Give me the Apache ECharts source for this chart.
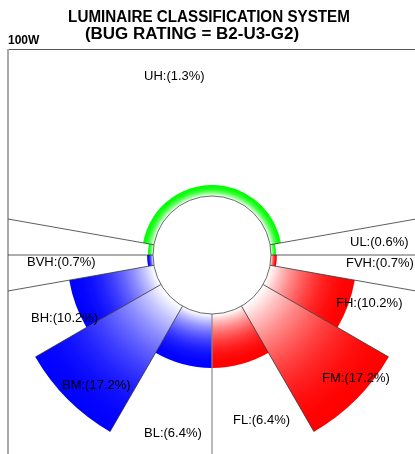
<!DOCTYPE html>
<html>
<head>
<meta charset="utf-8">
<script src="https://cdn.jsdelivr.net/npm/echarts@6/dist/echarts.min.js"></script>
<style>
html,body{margin:0;padding:0;background:#fff;}
#chart{width:415px;height:454px;}
</style>
</head>
<body>
<div id="chart"></div>
<script>
// ---- data ----
const titleLine1 = 'LUMINAIRE CLASSIFICATION SYSTEM';
const titleLine2 = '(BUG RATING = B2-U3-G2)';
const wattLabel = '100W';
// sectors (angles measured from nadir, back side clockwise)
const sectorZone  = ['BL', 'BM', 'BH', 'BVH', 'UL', 'UH', 'UL', 'FVH', 'FH', 'FM', 'FL'];
const sectorValue = [6.4, 17.2, 10.2, 0.7, 0.6, 1.3, 0.6, 0.7, 10.2, 17.2, 6.4];
const sectorFrom  = [0, 30, 60, 80, 90, 100, 260, 270, 280, 300, 330];
const sectorTo    = [30, 60, 80, 90, 100, 260, 270, 280, 300, 330, 360];
// zone boundary lines that run out to the frame
const majorBounds = [0, 80, 90, 100, 260, 270, 280];
// zone boundary lines that end at the sectors
const minorBounds = [30, 60, 300, 330];
// labels
const labelZone  = ['UH', 'UL', 'FVH', 'FH', 'FM', 'FL', 'BL', 'BM', 'BH', 'BVH'];
const labelValue = [1.3, 0.6, 0.7, 10.2, 17.2, 6.4, 6.4, 17.2, 10.2, 0.7];

// ---- layout / style ----
const CENTER = [212, 255];
const R_IN = 59;
const R_MAX_VAL = 20;
const R_OUT = 59 + 8.43 * R_MAX_VAL;
const FRAME = {x0: 8, y0: 49.5, x1: 415, y1: 454};
const labelPos = [[144,76],[350,242],[346,263],[336,303],[322,378],[233,420],[144,433],[62,385],[31,318],[27,262]];
const zoneRGB = {B: [0, 0, 255], U: [0, 255, 0], F: [255, 0, 0]};
const GAMMA = 2.0;

const chart = echarts.init(document.getElementById('chart'), null, {renderer: 'canvas'});

function mix(rgb, w) {
  const c = rgb.map(v => Math.round(v + (255 - v) * w));
  return 'rgb(' + c.join(',') + ')';
}

function sectorItem(params, api) {
  const i = params.dataIndex;
  const cs = params.coordSys;
  const cx = cs.cx, cy = cs.cy;
  const v = api.value(0), from = api.value(1), to = api.value(2);
  const pIn = api.coord([0, from]);
  const p1 = api.coord([v, from]);
  const p2 = api.coord([v, to]);
  const rIn = Math.hypot(pIn[0] - cx, pIn[1] - cy);
  const r = Math.hypot(p1[0] - cx, p1[1] - cy);
  let a1 = Math.atan2(p1[1] - cy, p1[0] - cx);
  let a2 = Math.atan2(p2[1] - cy, p2[0] - cx);
  if (a2 <= a1) a2 += Math.PI * 2;
  const rgb = zoneRGB[sectorZone[i][0]];
  const stops = [];
  const o0 = rIn / r;
  for (let k = 0; k <= 8; k++) {
    const t = k / 8;
    stops.push({offset: o0 + (1 - o0) * t, color: mix(rgb, Math.pow(1 - t, GAMMA))});
  }
  return {
    type: 'sector',
    shape: {cx: cx, cy: cy, r0: rIn, r: r, startAngle: a1, endAngle: a2, clockwise: true},
    style: {
      fill: {type: 'radial', x: cx, y: cy, r: r, global: true, colorStops: stops},
      stroke: null
    }
  };
}

function frameHit(cx, cy, dx, dy) {
  let t = Infinity;
  if (dx > 1e-9) t = Math.min(t, (FRAME.x1 - cx) / dx);
  if (dx < -1e-9) t = Math.min(t, (FRAME.x0 - cx) / dx);
  if (dy > 1e-9) t = Math.min(t, (FRAME.y1 - cy) / dy);
  if (dy < -1e-9) t = Math.min(t, (FRAME.y0 - cy) / dy);
  return [cx + dx * t, cy + dy * t];
}

function lineItem(params, api) {
  const cs = params.coordSys;
  const cx = cs.cx, cy = cs.cy;
  const ang = api.value(0), isMajor = api.value(1), v = api.value(2);
  const p0 = api.coord([0, ang]);
  let p1;
  if (isMajor) {
    const d = api.coord([1, ang]);
    p1 = frameHit(cx, cy, d[0] - p0[0], d[1] - p0[1]);
  } else {
    p1 = api.coord([v, ang]);
  }
  return {
    type: 'line',
    shape: {x1: p0[0], y1: p0[1], x2: p1[0], y2: p1[1]},
    style: {stroke: ang === 0 ? '#8a8a8a' : '#333333', lineWidth: ang === 0 ? 1.2 : 0.8}
  };
}

function circleItem(params, api) {
  const cs = params.coordSys;
  const p = api.coord([0, 0]);
  const r = Math.hypot(p[0] - cs.cx, p[1] - cs.cy);
  return {
    type: 'circle',
    shape: {cx: cs.cx, cy: cs.cy, r: r},
    style: {fill: '#ffffff', stroke: '#444444', lineWidth: 0.8}
  };
}

function boundMax(a) {
  let m = 0;
  for (let i = 0; i < sectorZone.length; i++) {
    if (sectorFrom[i] === a || sectorTo[i] === a) m = Math.max(m, sectorValue[i]);
  }
  return m;
}

const sectorData = sectorValue.map((v, i) => [v, sectorFrom[i], sectorTo[i]]);
const lineData = majorBounds.map(a => [a, 1, 0]).concat(minorBounds.map(a => [a, 0, boundMax(a)]));

const graphics = [
  {type: 'text', x: 209, y: 18, scaleX: 0.95, originX: 0, style: {text: titleLine1, font: 'bold 16px "Liberation Sans", Arial, sans-serif', fill: '#000', textAlign: 'center', textVerticalAlign: 'middle'}},
  {type: 'text', x: 192, y: 35, scaleX: 1.06, originX: 0, style: {text: titleLine2, font: 'bold 16px "Liberation Sans", Arial, sans-serif', fill: '#000', textAlign: 'center', textVerticalAlign: 'middle'}},
  {type: 'text', x: 8, y: 41, style: {text: wattLabel, font: 'bold 12px "Liberation Sans", Arial, sans-serif', fill: '#000', textAlign: 'left', textVerticalAlign: 'middle'}},
  {type: 'line', shape: {x1: FRAME.x0, y1: FRAME.y0, x2: FRAME.x1, y2: FRAME.y0}, style: {stroke: '#555', lineWidth: 1}},
  {type: 'line', shape: {x1: FRAME.x0, y1: FRAME.y0 - 0.5, x2: FRAME.x0, y2: FRAME.y1}, style: {stroke: '#aaa', lineWidth: 2}}
];
labelZone.forEach((z, i) => {
  graphics.push({
    type: 'text', x: labelPos[i][0], y: labelPos[i][1], z: 100,
    style: {text: z + ':(' + labelValue[i] + '%)', font: '13px "Liberation Sans", Arial, sans-serif', fill: '#000', textAlign: 'left', textVerticalAlign: 'middle'}
  });
});

chart.setOption({
  animation: false,
  backgroundColor: '#fff',
  polar: {center: CENTER, radius: [R_IN, R_OUT]},
  angleAxis: {type: 'value', min: 0, max: 360, startAngle: 270, clockwise: true, show: false, splitLine: {show: false}, axisLine: {show: false}},
  radiusAxis: {type: 'value', min: 0, max: R_MAX_VAL, show: false, splitLine: {show: false}, axisLine: {show: false}},
  series: [
    {type: 'custom', coordinateSystem: 'polar', clip: false, renderItem: sectorItem, data: sectorData, z: 2},
    {type: 'custom', coordinateSystem: 'polar', clip: false, renderItem: lineItem, data: lineData, z: 3},
    {type: 'custom', coordinateSystem: 'polar', clip: false, renderItem: circleItem, data: [[0, 0]], z: 4}
  ],
  graphic: graphics
});
</script>
</body>
</html>
